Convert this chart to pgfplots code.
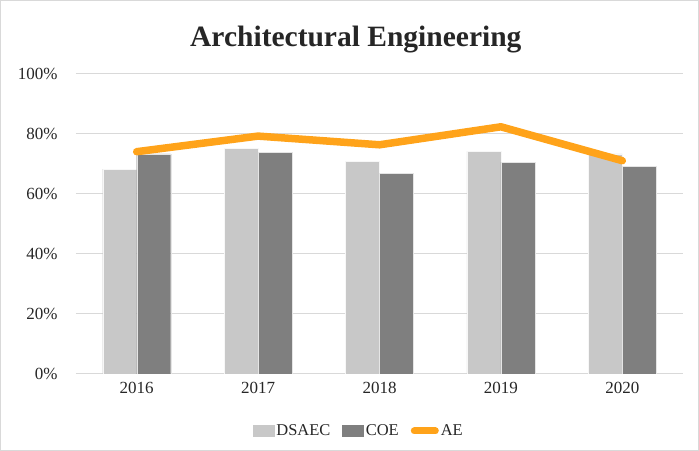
\documentclass[border=0pt]{standalone}
\usepackage{pgfplots}
\pgfplotsset{compat=1.18}
\usepackage{fontspec}
\setmainfont{Liberation Serif}
\definecolor{dsaec}{RGB}{200,200,200}
\definecolor{coe}{RGB}{127,127,127}
\definecolor{ae}{RGB}{255,163,26}
\definecolor{gridc}{RGB}{217,217,217}
\begin{document}
\begin{tikzpicture}[x=1bp,y=1bp]
% outer chart frame
\draw[gridc, line width=1bp] (-75.5,-76.5) rectangle (622.5,373.5);
\begin{axis}[
  at={(0,0)}, anchor=south west,
  scale only axis,
  width=607bp, height=300bp,
  ybar=0pt,
  bar width=34bp,
  xmin=-0.5, xmax=4.5,
  ymin=0, ymax=100,
  xtick=data,
  xticklabels={2016,2017,2018,2019,2020},
  ytick={0,20,40,60,80,100},
  yticklabel={\pgfmathprintnumber{\tick}\%},
  /pgf/number format/assume math mode=true,
  tick label style={font=\fontsize{17bp}{19bp}\selectfont, text=black!85},
  xticklabel style={yshift=-5bp},
  yticklabel style={xshift=-15bp},
  major tick length=0pt,
  ymajorgrids, grid style={gridc, line width=1bp},
  axis x line*=bottom, axis y line*=left,
  x axis line style={gridc, line width=1bp, -},
  y axis line style={draw=none},
  title={\textbf{Architectural Engineering}},
  title style={font=\fontsize{29.5bp}{31bp}\selectfont, text=black!85, at={(0.461,1)}, yshift=11bp},
  legend columns=3,
  legend style={draw=none, at={(0.466,-0.19)}, anchor=center,
    font=\fontsize{16.5bp}{18bp}\selectfont, text=black!85,
    /tikz/every even column/.append style={column sep=10bp}},
  legend cell align=left,
]
\addplot[fill=dsaec, draw=white!85!dsaec,
  legend image code/.code={\fill[dsaec] (0bp,-5.5bp) rectangle (21bp,5.5bp);}]
  coordinates {(0,68.3) (1,75.1) (2,70.8) (3,74.2) (4,73.4)};
\addlegendentry{DSAEC}
\addplot[fill=coe, draw=white!80!coe,
  legend image code/.code={\fill[coe] (0bp,-5.5bp) rectangle (21bp,5.5bp);}]
  coordinates {(0,73.4) (1,73.9) (2,66.9) (3,70.6) (4,69.3)};
\addlegendentry{COE}
\addplot[sharp plot, draw=ae, line width=7.5bp, line cap=round, line join=round, mark=none,
  legend image code/.code={\draw[ae, line width=7bp, line cap=round] (3bp,0bp) -- (24bp,0bp);}]
  coordinates {(0,74.1) (1,79.3) (2,76.4) (3,82.4) (4,71.1)};
\addlegendentry{AE}
\end{axis}
\end{tikzpicture}
\end{document}
